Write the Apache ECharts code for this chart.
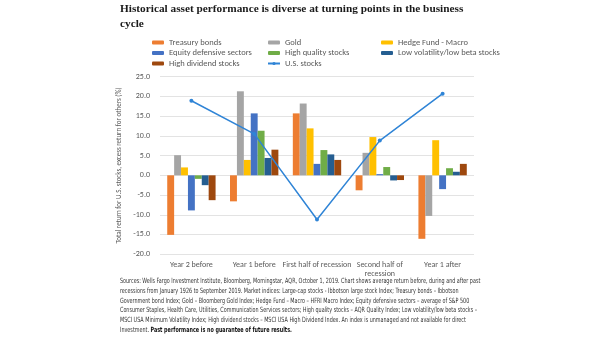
<!DOCTYPE html>
<html><head><meta charset="utf-8">
<script src="https://cdn.jsdelivr.net/npm/echarts@6/dist/echarts.min.js"></script>
<style>html,body{margin:0;padding:0;background:#fff}#c{width:605px;height:341px}</style>
</head><body><div id="c"></div>
<script>
var categories = ['Year 2 before', 'Year 1 before', 'First half of recession', 'Second half of\nrecession', 'Year 1 after'];
var treasury = [-15.1, -6.6, 15.7, -3.8, -16.1];
var gold = [5.1, 21.3, 18.2, 5.7, -10.3];
var hedge = [2.0, 3.9, 11.9, 9.7, 8.9];
var equityDef = [-8.9, 15.7, 2.9, 0.3, -3.5];
var highQuality = [-0.9, 11.3, 6.4, 2.1, 1.8];
var lowVol = [-2.5, 4.4, 5.3, -1.3, 0.9];
var highDiv = [-6.3, 6.5, 3.9, -1.2, 2.9];
var usStocks = [18.9, 10.5, -11.2, 8.8, 20.7];
var yTicks = [-20, -15, -10, -5, 0, 5, 10, 15, 20, 25];

var titleText = 'Historical asset performance is diverse at turning points in the business\ncycle';
var noteLines = [
 'Sources: Wells Fargo Investment Institute, Bloomberg, Morningstar, AQR, October 1, 2019. Chart shows average return before, during and after past',
 'recessions from January 1926 to September 2019. Market indices: Large-cap stocks - Ibbotson large stock Index; Treasury bonds \u2013 Ibbotson',
 'Government bond Index; Gold \u2013 Bloomberg Gold Index; Hedge Fund \u2013 Macro \u2013 HFRI Macro Index; Equity defensive sectors \u2013 average of S&P 500',
 'Consumer Staples, Health Care, Utilities, Communication Services sectors; High quality stocks \u2013 AQR Quality Index; Low volatility/low beta stocks \u2013',
 'MSCI USA Minimum Volatility Index; High dividend stocks \u2013 MSCI USA High Dividend Index. An index is unmanaged and not available for direct'
];
var noteLast = 'Investment. ';
var noteBold = 'Past performance is no guarantee of future results.';

var colors = {
  treasury: '#ED7D31', gold: '#A5A5A5', hedge: '#FFC000', equity: '#4472C4',
  hq: '#70AD47', lowvol: '#255E91', div: '#9E480E', us: '#2F84D6'
};
var chart = echarts.init(document.getElementById('c'));
function bar(name, data, color) {
  return { name: name, type: 'bar', data: data, itemStyle: { color: color },
           barGap: '0%', barCategoryGap: '23%' };
}
var uiFont = 'Carlito, Calibri, "Open Sans", sans-serif';
var legendText = { fontSize: 8.5, color: '#595959', fontFamily: uiFont };
var graphics = [{
  type: 'text', left: 120, top: 2,
  style: { text: titleText, font: 'bold 11.3px "Liberation Serif", serif', fill: '#1a1a1a', lineHeight: 15 }
}];
var noteFont = '7.2px "Liberation Sans Narrow", "DejaVu Sans Condensed", sans-serif';
var noteFontB = 'bold 7.2px "Liberation Sans Narrow", "DejaVu Sans Condensed", sans-serif';
var noteScale = 0.75;
noteLines.forEach(function (l, i) {
  graphics.push({ type: 'text', x: 120, y: 278 + i * 9.7, scaleX: noteScale,
    style: { text: l, font: noteFont, fill: '#333' } });
});
graphics.push({ type: 'text', x: 120, y: 278 + 5 * 9.7, scaleX: noteScale,
  style: { text: '{a|' + noteLast + '}{b|' + noteBold + '}',
    rich: { a: { font: noteFont, fill: '#333' }, b: { font: noteFontB, fill: '#111' } } } });

chart.setOption({
  animation: false,
  color: [colors.treasury, colors.gold, colors.hedge, colors.equity, colors.hq, colors.lowvol, colors.div, colors.us],
  graphic: graphics,
  legend: [
    { left: 147, top: 33, orient: 'vertical', itemGap: 1.5, itemWidth: 12, itemHeight: 4, textStyle: legendText,
      data: ['Treasury bonds', 'Equity defensive sectors', 'High dividend stocks'] },
    { left: 262, top: 33, orient: 'vertical', itemGap: 1.5, itemWidth: 12, itemHeight: 4, textStyle: legendText,
      data: ['Gold', 'High quality stocks', 'U.S. stocks'] },
    { left: 376, top: 33, orient: 'vertical', itemGap: 1.5, itemWidth: 12, itemHeight: 4, textStyle: legendText,
      data: ['Hedge Fund - Macro', 'Low volatility/low beta stocks'] }
  ],
  grid: { left: 160, right: 131, top: 76.7, bottom: 86.8 },
  xAxis: {
    type: 'category', data: categories,
    axisLine: { show: false }, axisTick: { show: false },
    axisLabel: { fontSize: 8, color: '#595959', interval: 0, lineHeight: 9.5, margin: 6, fontFamily: uiFont }
  },
  yAxis: {
    type: 'value', min: yTicks[0], max: yTicks[yTicks.length - 1], interval: 5,
    name: 'Total return for U.S. stocks, excess return for others (%)',
    nameLocation: 'middle', nameGap: 26, nameRotate: 90,
    nameTextStyle: { fontSize: 7, color: '#595959', fontFamily: uiFont },
    axisLine: { show: false }, axisTick: { show: false },
    axisLabel: { fontSize: 8, color: '#595959', margin: 10, formatter: function (v) { return v.toFixed(1); },
                 fontFamily: uiFont },
    splitLine: { lineStyle: { color: '#e3e3e3', width: 1 } }
  },
  series: [
    bar('Treasury bonds', treasury, colors.treasury),
    bar('Gold', gold, colors.gold),
    bar('Hedge Fund - Macro', hedge, colors.hedge),
    bar('Equity defensive sectors', equityDef, colors.equity),
    bar('High quality stocks', highQuality, colors.hq),
    bar('Low volatility/low beta stocks', lowVol, colors.lowvol),
    bar('High dividend stocks', highDiv, colors.div),
    { name: 'U.S. stocks', type: 'line', data: usStocks, symbol: 'circle', symbolSize: 4,
      lineStyle: { color: colors.us, width: 1.5 }, itemStyle: { color: colors.us }, z: 5 }
  ]
});
</script></body></html>
